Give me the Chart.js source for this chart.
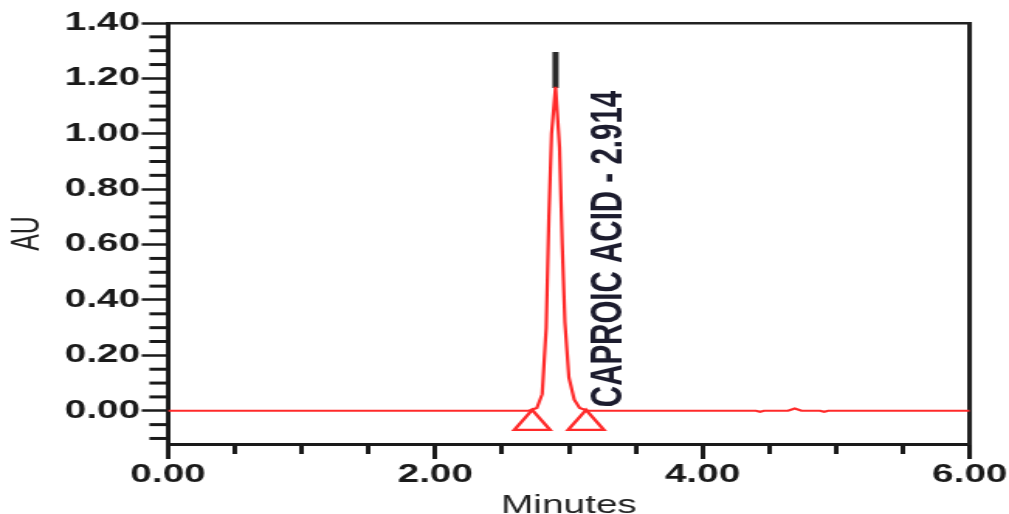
<!DOCTYPE html>
<html>
<head>
<meta charset="utf-8">
<script src="https://cdn.jsdelivr.net/npm/chart.js@4.4.1/dist/chart.umd.min.js"></script>
<style>
    html, body { margin: 0; padding: 0; background: #fff; overflow: hidden; }
    #wrap { width: 651px; height: 514px; transform: scaleX(1.55); transform-origin: 0 0; }
</style>
</head>
<body>
<div id="wrap"><canvas id="chart" width="651" height="514"></canvas></div>
<script>
// chromatogram trace (minutes / AU)
const traceMinutes = [0, 2.70, 2.76, 2.80, 2.83, 2.85, 2.87, 2.90, 2.93, 2.95, 2.97, 3.00, 3.04, 3.08, 3.14,
                      4.40, 4.43, 4.46, 4.64, 4.69, 4.74, 4.88, 4.91, 4.94, 6.00];
const traceAU      = [0, 0, 0.01, 0.06, 0.30, 0.70, 1.00, 1.17, 0.95, 0.60, 0.32, 0.12, 0.04, 0.01, 0,
                      0, -0.004, 0, 0, 0.008, 0, 0, -0.004, 0, 0];

// off-scale tip of the peak (drawn black)
const tipMinutes = [2.90, 2.90];
const tipAU = [1.165, 1.295];

// integration start / end markers
const markerMinutes = [2.725, 3.128];
const markerAU = [-0.045, -0.045];

const peakLabel = 'CAPROIC ACID - 2.914';
const peakLabelAt = { x: 3.392, y: 0.013 };

const xTickValues = [0, 2, 4, 6];
const xTickLabels = ['0.00', '2.00', '4.00', '6.00'];
const yTickValues = [0, 0.2, 0.4, 0.6, 0.8, 1.0, 1.2, 1.4];
const yTickLabels = ['0.00', '0.20', '0.40', '0.60', '0.80', '1.00', '1.20', '1.40'];
const xMinorStep = 0.5;
const yMinorStep = 0.05;

const FONT = 'Arial, "Liberation Sans", sans-serif';
const INK = '#1a1a1a';
const RED = '#ff2a2a';

const toPoints = (xs, ys) => xs.map((x, i) => ({ x: x, y: ys[i] }));

// values every `step` inside [min, max]
const stepValues = (min, max, step) => {
    const out = [];
    const first = Math.ceil(min / step - 1e-9);
    const last = Math.floor(max / step + 1e-9);
    for (let k = first; k <= last; k++) out.push(Math.round(k * step * 1000) / 1000);
    return out;
};

const peakLabelPlugin = {
    id: 'peakLabel',
    afterDatasetsDraw(chart) {
        const { ctx, scales } = chart;
        const px = scales.x.getPixelForValue(peakLabelAt.x);
        const py = scales.y.getPixelForValue(peakLabelAt.y);
        ctx.save();
        ctx.translate(px, py);
        ctx.rotate(-Math.PI / 2);
        ctx.font = 'bold 29.5px ' + FONT;
        ctx.fillStyle = '#1c1c2e';
        ctx.textAlign = 'left';
        ctx.textBaseline = 'alphabetic';
        ctx.fillText(peakLabel, 0, 0);
        ctx.restore();
    }
};

// short unlabeled ticks on the AU axis
const yMinorTicksPlugin = {
    id: 'yMinorTicks',
    afterDraw(chart) {
        const { ctx, scales: { y } } = chart;
        ctx.save();
        ctx.strokeStyle = INK;
        ctx.lineWidth = 3;
        stepValues(y.min, y.max, yMinorStep).forEach(v => {
            if (yTickValues.some(t => Math.abs(t - v) < 1e-6)) return;
            const py = y.getPixelForValue(v);
            ctx.beginPath();
            ctx.moveTo(y.right - 12, py);
            ctx.lineTo(y.right, py);
            ctx.stroke();
        });
        ctx.restore();
    }
};

const hiddenAxis = (position, horizontal, borderWidth) => ({
    type: 'linear',
    position: position,
    min: horizontal ? 0 : -0.12,
    max: horizontal ? 6 : 1.4,
    ticks: { display: false },
    grid: { display: false },
    border: { display: true, color: '#222', width: borderWidth },
    afterFit: (s) => { if (horizontal) s.height = 0; else s.width = 0; }
});

new Chart(document.getElementById('chart'), {
    type: 'scatter',
    data: {
        datasets: [
            {
                data: toPoints(traceMinutes, traceAU),
                showLine: true,
                borderColor: RED,
                borderWidth: 2.2,
                pointRadius: 0,
                tension: 0
            },
            {
                data: toPoints(tipMinutes, tipAU),
                showLine: true,
                borderColor: '#2a2a2a',
                borderWidth: 4,
                pointRadius: 0
            },
            {
                data: toPoints(markerMinutes, markerAU),
                showLine: false,
                pointStyle: 'triangle',
                pointRadius: 13.3,
                pointBorderColor: RED,
                pointBackgroundColor: 'rgba(255,255,255,0)',
                pointBorderWidth: 2.4
            }
        ]
    },
    options: {
        responsive: false,
        animation: false,
        layout: { padding: { left: 0, top: 23, right: 24.5, bottom: 0 } },
        plugins: { legend: { display: false }, tooltip: { enabled: false } },
        scales: {
            x: {
                type: 'linear',
                position: 'bottom',
                weight: 1,
                min: 0,
                max: 6,
                afterBuildTicks: (s) => { s.ticks = xTickValues.map(v => ({ value: v })); },
                ticks: {
                    callback: (v, i) => xTickLabels[i],
                    font: { family: FONT, size: 25, weight: 'bold' },
                    color: INK,
                    padding: 1,
                    maxRotation: 0,
                    autoSkip: false
                },
                grid: { drawOnChartArea: false, tickLength: 15, tickWidth: 3, tickColor: INK },
                border: { display: true, color: INK, width: 3 },
                title: {
                    display: true,
                    text: 'Minutes',
                    font: { family: FONT, size: 25 },
                    color: '#222',
                    padding: { top: 0, bottom: -7 }
                },
                afterFit: (s) => { s.height = 70; }
            },
            xMinor: {
                type: 'linear',
                position: 'bottom',
                weight: 0,
                min: 0,
                max: 6,
                afterBuildTicks: (s) => { s.ticks = stepValues(s.min, s.max, xMinorStep).map(v => ({ value: v })); },
                ticks: { display: false },
                grid: { drawOnChartArea: false, tickLength: 10, tickWidth: 3, tickColor: INK },
                border: { display: false },
                afterFit: (s) => { s.height = 0; }
            },
            xTop: hiddenAxis('top', true, 2.5),
            y: {
                type: 'linear',
                position: 'left',
                min: -0.12,
                max: 1.4,
                afterBuildTicks: (s) => { s.ticks = yTickValues.map(v => ({ value: v })); },
                ticks: {
                    callback: (v, i) => yTickLabels[i],
                    font: { family: FONT, size: 25, weight: 'bold' },
                    color: INK,
                    padding: 1,
                    autoSkip: false
                },
                grid: { drawOnChartArea: false, tickLength: 17, tickWidth: 2.5, tickColor: INK },
                border: { display: true, color: INK, width: 3 },
                title: {
                    display: true,
                    text: 'AU',
                    font: { family: FONT, size: 25 },
                    color: '#222',
                    padding: { top: 3, bottom: 0 }
                },
                afterFit: (s) => { s.width = 108.4; }
            },
            yRight: hiddenAxis('right', false, 3)
        }
    },
    plugins: [peakLabelPlugin, yMinorTicksPlugin]
});
</script>
</body>
</html>
